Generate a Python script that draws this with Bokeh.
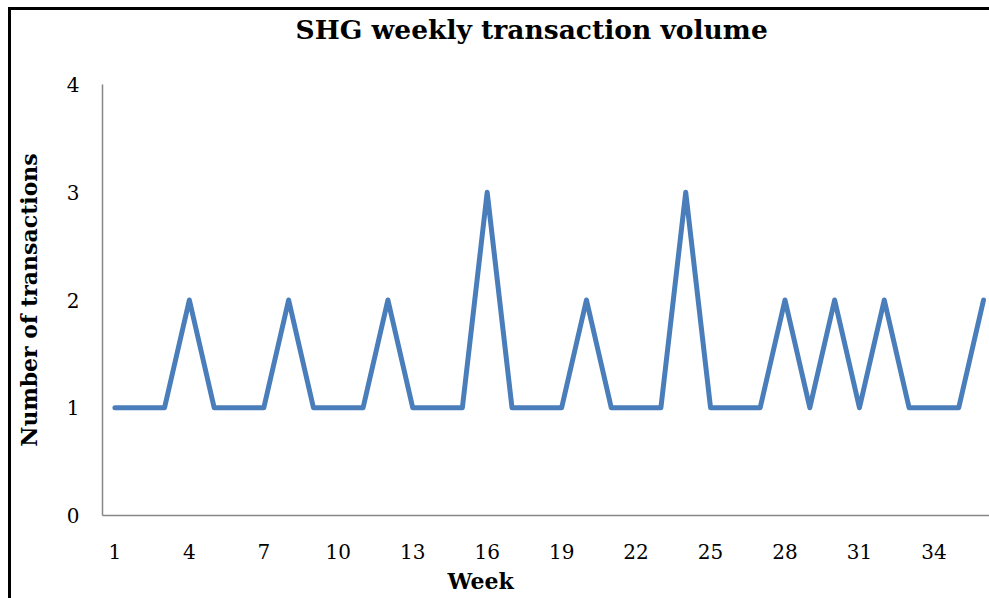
from bokeh.plotting import figure
from bokeh.models import Range1d, FixedTicker, Title, InlineStyleSheet
from bokeh.embed import file_html
from bokeh.resources import INLINE

weeks = list(range(1, 37))
transactions = [1, 1, 1, 2, 1, 1, 1, 2, 1, 1, 1, 2, 1, 1, 1, 3, 1, 1,
                1, 2, 1, 1, 1, 3, 1, 1, 1, 2, 1, 2, 1, 2, 1, 1, 1, 2]
x_ticks = [1, 4, 7, 10, 13, 16, 19, 22, 25, 28, 31, 34]
y_ticks = [0, 1, 2, 3, 4]
title_text = "SHG weekly transaction volume"
x_title = "Week"
y_title = "Number of transactions"

FONT = "DejaVu Serif"

p = figure(width=989, height=598, output_backend="svg", toolbar_location=None,
           x_range=Range1d(0.5, 36.24), y_range=Range1d(0, 4),
           min_border_left=102, min_border_right=0, min_border_top=84, min_border_bottom=83)
p.outline_line_color = None
p.grid.visible = False
p.background_fill_color = "white"
p.border_fill_color = "white"

p.line(weeks, transactions, line_width=5, line_color="#4a7ebb",
       line_join="round", line_cap="round")

for ax in (p.xaxis[0], p.yaxis[0]):
    ax.axis_line_color = "#868686"
    ax.axis_line_width = 1.5
    ax.major_tick_line_color = None
    ax.minor_tick_line_color = None
    ax.major_tick_out = 0
    ax.major_tick_in = 0
    ax.minor_tick_out = 0
    ax.major_label_text_font = FONT
    ax.major_label_text_font_size = "20px"
    ax.major_label_text_color = "black"

p.xaxis.ticker = FixedTicker(ticks=x_ticks)
p.yaxis.ticker = FixedTicker(ticks=y_ticks)
p.xaxis.major_label_standoff = 28
p.yaxis.major_label_standoff = 23

p.yaxis.axis_label = y_title
p.yaxis.axis_label_text_font = FONT
p.yaxis.axis_label_text_font_style = "bold"
p.yaxis.axis_label_text_font_size = "22px"
p.yaxis.axis_label_text_color = "black"
p.yaxis.axis_label_standoff = 22

p.add_layout(Title(text=x_title, align="left", offset=345, text_font=FONT,
                   text_font_style="bold", text_font_size="22px", text_color="black",
                   standoff=9), "below")
# spacer between plot frame and chart title
p.add_layout(Title(text=" ", text_font_size="10px", standoff=26), "above")
p.add_layout(Title(text=title_text, align="left", offset=193,
                   text_font=FONT, text_font_style="bold", text_font_size="26.5px",
                   text_color="black", standoff=2), "above")

p.stylesheets = [InlineStyleSheet(css="""
:host { position: relative; overflow: hidden; }
:host::after { content: ""; position: absolute; left: 8px; top: 7px;
  width: 2000px; height: 2000px; border: 3px solid black;
  pointer-events: none; z-index: 100; box-sizing: border-box; }
""")]

open("out.html", "w").write(file_html(p, INLINE))
